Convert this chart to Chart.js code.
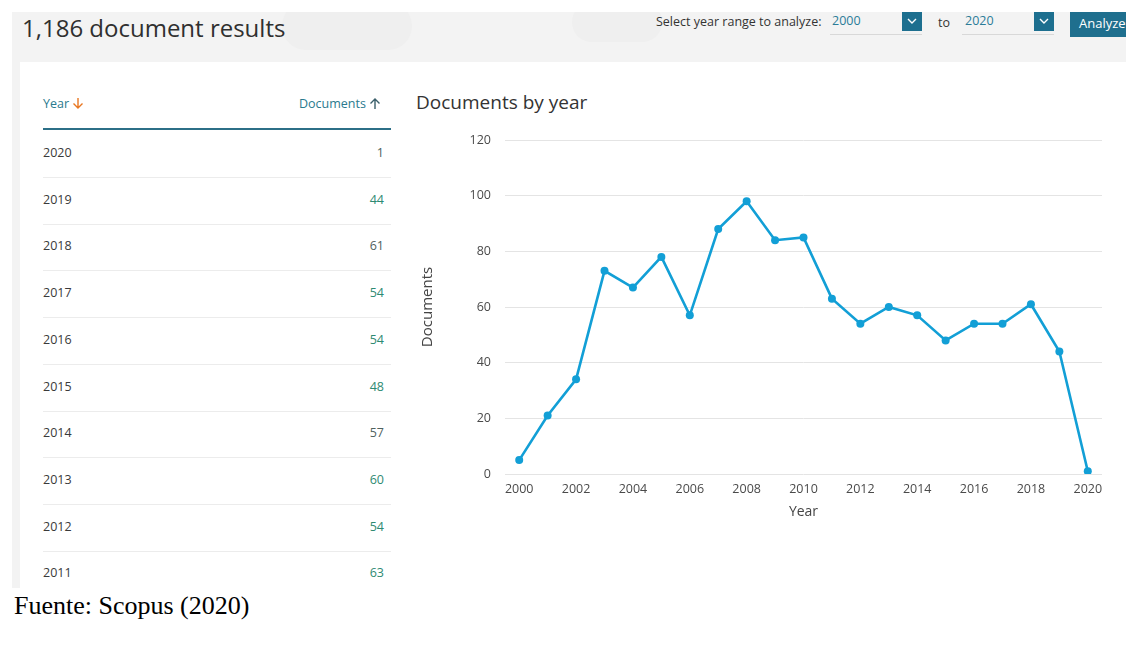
<!DOCTYPE html>
<html>
<head>
<meta charset="utf-8">
<script src="https://cdn.jsdelivr.net/npm/chart.js@4/dist/chart.umd.min.js"></script>
<style>
  html, body { margin: 0; padding: 0; background: #ffffff; }
  body { width: 1126px; height: 651px; position: relative; overflow: hidden; font-family: "Open Sans", "Noto Sans", sans-serif; }
  .shot { position: absolute; left: 12px; top: 12px; width: 1114px; height: 576px; background: #f3f3f3; overflow: hidden; }
  .band-blob { position: absolute; background: #efefef; border-radius: 30px; }
  .card { position: absolute; left: 8px; top: 50px; width: 1106px; height: 526px; background: #ffffff; }
  .abs { position: absolute; white-space: nowrap; }
  .results { left: 10px; top: 0px; font-size: 24px; line-height: 32px; color: #2f2f2f; }
  .range { font-size: 12.5px; line-height: 18px; color: #333; }
  .sel { color: #2b7c98; }
  .sel-line { position: absolute; height: 1px; background: #d8d8d8; }
  .dd { position: absolute; width: 20px; height: 19px; background: #1d6f8f; }
  .dd svg { position: absolute; left: 5px; top: 5px; }
  .btn { position: absolute; left: 1058px; top: 0px; width: 60px; height: 25px; background: #1f6f8e; color: #fff; font-size: 13px; line-height: 22px; padding-left: 9px; box-sizing: border-box; }
  .th { font-size: 12.5px; line-height: 18px; color: #2a7a8e; }
  .th svg { vertical-align: -2px; margin-left: 3px; }
  .hline { position: absolute; left: 31px; width: 348px; height: 2px; background: #2c6f87; }
  .rline { position: absolute; left: 31px; width: 348px; height: 1px; background: #ececec; }
  .yr { font-size: 12.5px; line-height: 18px; color: #3a3a3a; }
  .val { font-size: 12.5px; line-height: 18px; text-align: right; width: 60px; }
  .ctitle { font-size: 19px; line-height: 24px; color: #333; }
  .source { left: 14px; top: 591px; font-family: "Liberation Serif", "Times New Roman", serif; font-size: 26px; line-height: 30px; color: #000; }
  #chartWrap { position: absolute; left: 400px; top: 90px; width: 726px; height: 440px; }
</style>
</head>
<body>
<div class="shot">
  <div class="band-blob" style="left:270px; top:-10px; width:130px; height:48px;"></div>
  <div class="band-blob" style="left:560px; top:-10px; width:90px; height:40px;"></div>
  <div class="card"></div>
  <div class="abs results" id="results"></div>

  <div class="abs range" style="left:644px; top:1px;">Select year range to analyze:</div>
  <div class="abs range sel" id="fromYear" style="left:820px; top:0px;"></div>
  <div class="sel-line" style="left:818px; top:22px; width:92px;"></div>
  <div class="dd" style="left:890px; top:0px;"><svg width="10" height="8" viewBox="0 0 10 8"><polyline points="1,2 5,6 9,2" fill="none" stroke="#fff" stroke-width="1.4"/></svg></div>
  <div class="abs range" style="left:926px; top:2px;">to</div>
  <div class="abs range sel" id="toYear" style="left:953px; top:0px;"></div>
  <div class="sel-line" style="left:950px; top:22px; width:92px;"></div>
  <div class="dd" style="left:1022px; top:0px;"><svg width="10" height="8" viewBox="0 0 10 8"><polyline points="1,2 5,6 9,2" fill="none" stroke="#fff" stroke-width="1.4"/></svg></div>
  <div class="btn">Analyze</div>

  <div class="abs th" style="left:31px; top:83px;">Year<svg width="12" height="13" viewBox="0 0 12 13"><path d="M6 1 V11 M1.5 6.5 L6 11 L10.5 6.5" fill="none" stroke="#e87722" stroke-width="1.4"/></svg></div>
  <div class="abs th" style="left:287px; top:83px;">Documents<svg width="12" height="13" viewBox="0 0 12 13"><path d="M6 12 V2 M1.5 6.5 L6 2 L10.5 6.5" fill="none" stroke="#3a5f6a" stroke-width="1.4"/></svg></div>
  <div class="hline" style="top:116px;"></div>
  <div id="rows"></div>

  <div class="abs ctitle" style="left:404px; top:78px;">Documents by year</div>
</div>

<div id="chartWrap"><canvas id="chart" width="726" height="440"></canvas></div>
<div class="abs source">Fuente: Scopus (2020)</div>

<script>
// Documents per publication year, 2000–2020
const years = ["2000","2001","2002","2003","2004","2005","2006","2007","2008","2009","2010",
               "2011","2012","2013","2014","2015","2016","2017","2018","2019","2020"];
const documents = [5, 21, 34, 73, 67, 78, 57, 88, 98, 84, 85,
                   63, 54, 60, 57, 48, 54, 54, 61, 44, 1];
// Years listed in the side table (newest first)
const tableYears = ["2020","2019","2018","2017","2016","2015","2014","2013","2012","2011"];
const yTicks = [0, 20, 40, 60, 80, 100, 120];

const total = documents.reduce((a, b) => a + b, 0);
document.getElementById('results').textContent = total.toLocaleString('en-US') + ' document results';
document.getElementById('fromYear').textContent = years[0];
document.getElementById('toYear').textContent = years[years.length - 1];

// Side table rows
const rowsEl = document.getElementById('rows');
const rowTop = 141, rowStep = 46.7;
const mutedRows = { "2020": true, "2018": true, "2014": true };
tableYears.forEach((y, i) => {
  const v = documents[years.indexOf(y)];
  const cy = rowTop + i * rowStep;
  const yr = document.createElement('div');
  yr.className = 'abs yr';
  yr.style.left = '31px';
  yr.style.top = (cy - 9) + 'px';
  yr.textContent = y;
  rowsEl.appendChild(yr);
  const val = document.createElement('div');
  val.className = 'abs val';
  val.style.left = '312px';
  val.style.top = (cy - 9) + 'px';
  val.style.color = mutedRows[y] ? '#4f615e' : '#2e8a72';
  val.textContent = v;
  rowsEl.appendChild(val);
  const line = document.createElement('div');
  line.className = 'rline';
  line.style.top = Math.round(cy + 24) + 'px';
  rowsEl.appendChild(line);
});

const blue = '#129fd6';
new Chart(document.getElementById('chart'), {
  type: 'line',
  data: {
    labels: years,
    datasets: [{
      data: documents,
      borderColor: blue,
      backgroundColor: blue,
      borderWidth: 2.6,
      tension: 0,
      pointRadius: 4,
      pointBorderWidth: 0,
      pointBackgroundColor: blue,
      fill: false
    }]
  },
  options: {
    responsive: false,
    animation: false,
    devicePixelRatio: 1,
    layout: { padding: { left: 0, right: 24, top: 50, bottom: 0 } },
    plugins: { legend: { display: false }, tooltip: { enabled: false } },
    scales: {
      x: {
        type: 'category',
        offset: true,
        grid: { display: false, drawTicks: false },
        border: { display: false },
        ticks: {
          autoSkip: false,
          maxRotation: 0,
          padding: 8,
          color: '#4a4a4a',
          font: { family: 'Open Sans', size: 12.5 },
          callback: function (value, index) { return index % 2 === 0 ? this.getLabelForValue(value) : ''; }
        },
        title: { display: true, text: 'Year', color: '#444', font: { family: 'Open Sans', size: 14 }, padding: { top: 0, bottom: 10 } },
        afterFit: (s) => { s.height = 56; }
      },
      y: {
        min: yTicks[0],
        max: yTicks[yTicks.length - 1],
        afterBuildTicks: (s) => { s.ticks = yTicks.map(v => ({ value: v })); },
        grid: { color: '#e4e4e4', lineWidth: 1, drawTicks: false },
        border: { display: false },
        ticks: { padding: 14, color: '#4a4a4a', font: { family: 'Open Sans', size: 12.5 } },
        title: { display: true, text: 'Documents', color: '#444', font: { family: 'Open Sans', size: 15 }, padding: { top: 19, bottom: 0 } },
        afterFit: (s) => { s.width = 105; }
      }
    }
  }
});
</script>
</body>
</html>
